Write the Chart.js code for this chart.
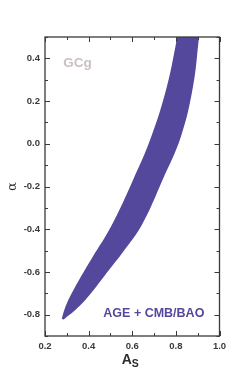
<!DOCTYPE html>
<html>
<head>
<meta charset="utf-8">
<script src="https://cdn.jsdelivr.net/npm/chart.js@4.4.1/dist/chart.umd.min.js"></script>
<style>
  html, body { margin: 0; padding: 0; background: #ffffff; }
  #wrap { position: relative; width: 249px; height: 374px; }
</style>
</head>
<body>
<div id="wrap"><canvas id="c" width="249" height="374"></canvas></div>
<script>
// ---- data ----
// left (high-alpha) edge of the confidence band, from top to the tip
const leftEdgeAs    = [0.8254, 0.8066, 0.7594, 0.6883, 0.6035, 0.5063, 0.4155, 0.3825, 0.3380, 0.3068, 0.2885, 0.2793];
const leftEdgeAlpha = [0.6002, 0.500, 0.2705, 0.0363, -0.1698, -0.3806, -0.5351, -0.5913, -0.6710, -0.7319, -0.7787, -0.8101];
// rounded tip of the band
const tipAs    = [0.2775, 0.2848];
const tipAlpha = [-0.8180, -0.8222];
// right (low-alpha) edge, from the tip to the top
const rightEdgeAs    = [0.3045, 0.3284, 0.3719, 0.4155, 0.4934, 0.5576, 0.6438, 0.7387, 0.8240, 0.8790, 0.9061, 0.9167];
const rightEdgeAlpha = [-0.8068, -0.7880, -0.7459, -0.6944, -0.5913, -0.5070, -0.3806, -0.1698, 0.0363, 0.2705, 0.500, 0.6002];

const xTicks = [0.2, 0.4, 0.6, 0.8, 1.0];
const yTicks = [-0.8, -0.6, -0.4, -0.2, 0.0, 0.2, 0.4];
const xMinor = [0.3, 0.5, 0.7, 0.9];
const yMinor = [-0.9, -0.7, -0.5, -0.3, -0.1, 0.1, 0.3, 0.5];

const bandLabel = 'AGE + CMB/BAO';
const modelLabel = 'GCg';

// ---- build polygon ----
const band = [];
leftEdgeAs.forEach((x, i) => band.push({x, y: leftEdgeAlpha[i]}));
tipAs.forEach((x, i) => band.push({x, y: tipAlpha[i]}));
rightEdgeAs.forEach((x, i) => band.push({x, y: rightEdgeAlpha[i]}));

const PURPLE = '#54489c';
const AXIS = '#3a3a3a';

const decorPlugin = {
  id: 'decor',
  afterDraw(chart) {
    const ctx = chart.ctx;
    const a = chart.chartArea;
    const xs = chart.scales.x, ys = chart.scales.y;
    ctx.save();
    // frame
    ctx.strokeStyle = AXIS;
    ctx.lineWidth = 1.3;
    ctx.strokeRect(a.left, a.top, a.right - a.left, a.bottom - a.top);
    // ticks (inward, all four sides)
    ctx.lineWidth = 1;
    const tx = (vals, len) => vals.forEach(v => {
      const p = Math.round(xs.getPixelForValue(v)) + 0.5;
      ctx.beginPath();
      ctx.moveTo(p, a.bottom); ctx.lineTo(p, a.bottom - len);
      ctx.moveTo(p, a.top); ctx.lineTo(p, a.top + len);
      ctx.stroke();
    });
    const ty = (vals, len) => vals.forEach(v => {
      const p = Math.round(ys.getPixelForValue(v)) + 0.5;
      ctx.beginPath();
      ctx.moveTo(a.left, p); ctx.lineTo(a.left + len, p);
      ctx.moveTo(a.right, p); ctx.lineTo(a.right - len, p);
      ctx.stroke();
    });
    tx(xTicks, 5); tx(xMinor, 3);
    ty(yTicks, 5); ty(yMinor, 3);

    // in-plot labels
    ctx.textAlign = 'center';
    ctx.textBaseline = 'middle';
    ctx.fillStyle = '#c9c0c0';
    ctx.font = 'bold 13.5px "Liberation Sans", Arial, sans-serif';
    ctx.fillText(modelLabel, xs.getPixelForValue(0.349), ys.getPixelForValue(0.378));
    ctx.fillStyle = PURPLE;
    ctx.font = 'bold 12.5px "Liberation Sans", Arial, sans-serif';
    ctx.fillText(bandLabel, xs.getPixelForValue(0.699), ys.getPixelForValue(-0.794));

    // x-axis title A_S
    const cx = (a.left + a.right) / 2;
    ctx.fillStyle = '#2e2e2e';
    ctx.textAlign = 'left';
    ctx.textBaseline = 'alphabetic';
    ctx.font = 'bold 14px "Liberation Sans", Arial, sans-serif';
    const ax = cx - 10.5;
    ctx.fillText('A', ax, 363.5);
    const aw = ctx.measureText('A').width;
    ctx.font = 'bold 10.5px "Liberation Sans", Arial, sans-serif';
    ctx.fillText('S', ax + aw, 367);
    ctx.restore();
  }
};

new Chart(document.getElementById('c'), {
  type: 'line',
  data: {
    datasets: [{
      data: band,
      fill: 'shape',
      backgroundColor: PURPLE,
      borderColor: PURPLE,
      borderWidth: 0,
      pointRadius: 0,
      tension: 0.4
    }]
  },
  options: {
    responsive: false,
    animation: false,
    events: [],
    layout: { padding: { top: 37, right: 29.5, left: 0, bottom: 0 } },
    plugins: { legend: { display: false }, tooltip: { enabled: false } },
    scales: {
      x: {
        type: 'linear',
        min: 0.2, max: 1.0,
        afterFit: s => { s.height = 38; },
        afterBuildTicks: s => { s.ticks = xTicks.map(v => ({value: v})); },
        grid: { display: false, drawTicks: false },
        border: { display: false },
        ticks: {
          padding: 5,
          maxRotation: 0,
          color: AXIS,
          font: { family: '"Liberation Sans", Arial, sans-serif', size: 9.5, weight: 'bold' },
          callback: v => Number(v).toFixed(1)
        },
        title: { display: false }
      },
      y: {
        type: 'linear',
        min: -0.9, max: 0.5,
        afterFit: s => { s.width = 45; },
        afterBuildTicks: s => { s.ticks = yTicks.map(v => ({value: v})); },
        grid: { display: false, drawTicks: false },
        border: { display: false },
        ticks: {
          padding: 5,
          color: AXIS,
          font: { family: '"Liberation Sans", Arial, sans-serif', size: 9.5, weight: 'bold' },
          callback: v => Number(v).toFixed(1)
        },
        title: {
          display: true,
          text: 'α',
          color: '#2e2e2e',
          padding: { top: 5, bottom: 0 },
          font: { family: '"DejaVu Serif", serif', size: 13 }
        }
      }
    }
  },
  plugins: [decorPlugin]
});
</script>
</body>
</html>
